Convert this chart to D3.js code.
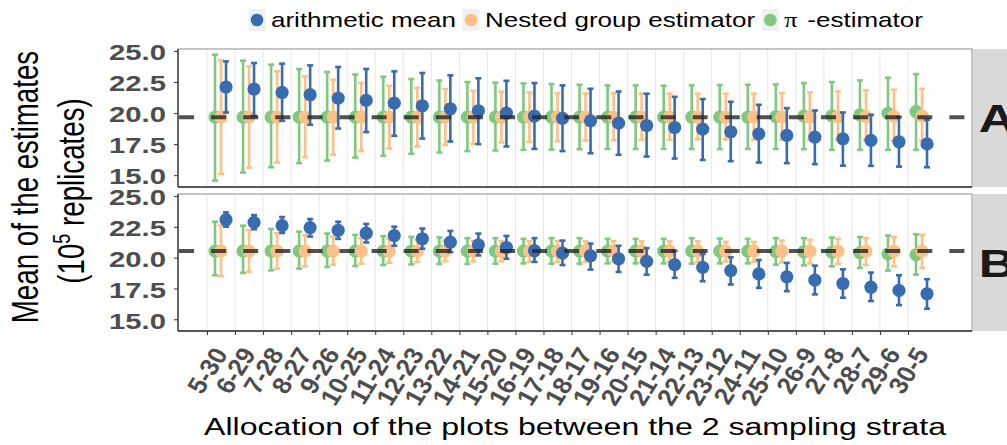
<!DOCTYPE html>
<html>
<head>
<meta charset="utf-8">
<script src="https://cdn.jsdelivr.net/npm/d3@7"></script>
<style>
  body { margin: 0; background: #fff; }
  text { font-family: "Liberation Sans", Arial, sans-serif; }
</style>
</head>
<body>
<div id="chart"></div>
<script>
// Categories (x axis) and panel labels
const categories = ["5-30", "6-29", "7-28", "8-27", "9-26", "10-25", "11-24", "12-23", "13-22",
  "14-21", "15-20", "16-19", "17-18", "18-17", "19-16", "20-15", "21-14", "22-13", "23-12",
  "24-11", "25-10", "26-9", "27-8", "28-7", "29-6", "30-5"];
const panels = ["A", "B"];
const yTicks = [15, 17.5, 20, 22.5, 25];
const refLines = [19.66, 20.53];

// Panel A
const meanA_arith = [22.10, 21.94, 21.66, 21.48, 21.21, 21.02, 20.80, 20.59, 20.35, 20.19, 20.00, 19.76, 19.57,
  19.38, 19.19, 19.00, 18.84, 18.71, 18.50, 18.33, 18.20, 18.06, 17.93, 17.80, 17.69, 17.52];
const lowA_arith = [20.05, 19.78, 19.38, 19.06, 18.76, 18.47, 18.17, 17.95, 17.71, 17.50, 17.31, 17.12, 16.94,
  16.77, 16.64, 16.50, 16.34, 16.23, 16.13, 16.02, 15.97, 15.89, 15.77, 15.75, 15.69, 15.64];
const highA_arith = [24.16, 24.03, 23.98, 23.84, 23.71, 23.55, 23.36, 23.23, 23.04, 22.80, 22.60, 22.42, 22.23,
  21.96, 21.74, 21.56, 21.31, 21.13, 20.91, 20.67, 20.40, 20.21, 20.05, 19.86, 19.68, 19.46];

const meanA_nested = [19.68, 19.68, 19.68, 19.68, 19.68, 19.68, 19.68, 19.68, 19.68, 19.68, 19.68, 19.68, 19.68,
  19.68, 19.68, 19.68, 19.68, 19.68, 19.68, 19.68, 19.68, 19.68, 19.70, 19.72, 19.74, 19.76];
const lowA_nested = [15.10, 15.61, 16.02, 16.45, 16.64, 16.94, 17.15, 17.31, 17.44, 17.52, 17.63, 17.69, 17.74,
  17.79, 17.82, 17.85, 17.85, 17.90, 17.88, 17.85, 17.85, 17.85, 17.85, 17.85, 17.79, 17.79];
const highA_nested = [24.24, 23.76, 23.36, 22.95, 22.69, 22.42, 22.20, 22.04, 21.93, 21.80, 21.72, 21.66, 21.61,
  21.58, 21.58, 21.56, 21.56, 21.56, 21.56, 21.56, 21.61, 21.66, 21.74, 21.83, 21.88, 21.96];

const meanA_pi = [19.68, 19.68, 19.68, 19.68, 19.68, 19.68, 19.68, 19.68, 19.68, 19.68, 19.68, 19.68, 19.68,
  19.68, 19.68, 19.68, 19.68, 19.68, 19.68, 19.68, 19.72, 19.75, 19.78, 19.86, 19.98, 20.12];
const lowA_pi = [14.57, 15.21, 15.64, 15.97, 16.18, 16.42, 16.56, 16.72, 16.83, 16.94, 16.99, 17.04, 17.06,
  17.10, 17.12, 17.12, 17.12, 17.12, 17.10, 17.12, 17.12, 17.10, 17.04, 17.04, 17.04, 17.04];
const highA_pi = [24.70, 24.22, 23.90, 23.55, 23.31, 23.11, 22.93, 22.74, 22.62, 22.50, 22.44, 22.39, 22.34,
  22.28, 22.23, 22.23, 22.20, 22.23, 22.26, 22.28, 22.31, 22.42, 22.50, 22.63, 22.85, 23.14];

// Panel B
const meanB_arith = [23.07, 22.86, 22.59, 22.43, 22.22, 21.98, 21.79, 21.53, 21.25, 21.04, 20.82, 20.56, 20.37,
  20.15, 19.91, 19.70, 19.43, 19.21, 18.95, 18.68, 18.44, 18.17, 17.90, 17.60, 17.34, 17.07];
const lowB_arith = [22.51, 22.30, 22.00, 21.71, 21.52, 21.23, 20.96, 20.72, 20.45, 20.18, 19.91, 19.65, 19.40,
  19.03, 18.84, 18.62, 18.36, 18.09, 17.82, 17.55, 17.28, 17.02, 16.75, 16.48, 16.15, 15.86];
const highB_arith = [23.67, 23.45, 23.29, 23.13, 22.91, 22.73, 22.51, 22.36, 22.16, 21.95, 21.76, 21.58, 21.38,
  21.14, 20.96, 20.77, 20.55, 20.29, 20.03, 19.81, 19.57, 19.35, 19.05, 18.79, 18.57, 18.25];

const meanB_nested = [20.53, 20.53, 20.53, 20.53, 20.53, 20.53, 20.53, 20.53, 20.53, 20.53, 20.53, 20.53, 20.53,
  20.53, 20.53, 20.53, 20.53, 20.53, 20.53, 20.53, 20.53, 20.53, 20.53, 20.53, 20.53, 20.53];
const lowB_nested = [18.49, 18.84, 19.11, 19.29, 19.43, 19.51, 19.59, 19.64, 19.70, 19.70, 19.70, 19.67, 19.67,
  19.67, 19.67, 19.66, 19.66, 19.65, 19.68, 19.66, 19.62, 19.53, 19.48, 19.40, 19.29, 19.16];
const highB_nested = [22.59, 22.24, 21.98, 21.84, 21.71, 21.58, 21.52, 21.44, 21.38, 21.36, 21.34, 21.34, 21.34,
  21.34, 21.33, 21.33, 21.33, 21.32, 21.28, 21.28, 21.38, 21.44, 21.52, 21.58, 21.66, 21.84];

const meanB_pi = [20.53, 20.53, 20.53, 20.53, 20.53, 20.53, 20.53, 20.53, 20.53, 20.53, 20.53, 20.53, 20.53,
  20.53, 20.53, 20.53, 20.53, 20.53, 20.53, 20.53, 20.50, 20.48, 20.44, 20.38, 20.31, 20.23];
const lowB_pi = [18.57, 18.76, 18.97, 19.11, 19.24, 19.32, 19.40, 19.45, 19.48, 19.49, 19.51, 19.53, 19.51,
  19.51, 19.53, 19.53, 19.53, 19.51, 19.53, 19.53, 19.43, 19.37, 19.29, 19.16, 18.95, 18.62];
const highB_pi = [22.91, 22.59, 22.33, 22.11, 21.95, 21.84, 21.74, 21.68, 21.64, 21.58, 21.58, 21.52, 21.58,
  21.58, 21.52, 21.52, 21.52, 21.58, 21.55, 21.52, 21.58, 21.58, 21.63, 21.68, 21.79, 21.90];

// Series in drawing order (left to right inside each group)
const series = [
  { name: "pi", color: "#7fc97f", dx: -6,
    data: [[meanA_pi, lowA_pi, highA_pi], [meanB_pi, lowB_pi, highB_pi]] },
  { name: "nested", color: "#fdc086", dx: 0,
    data: [[meanA_nested, lowA_nested, highA_nested], [meanB_nested, lowB_nested, highB_nested]] },
  { name: "arith", color: "#386cb0", dx: 5,
    data: [[meanA_arith, lowA_arith, highA_arith], [meanB_arith, lowB_arith, highB_arith]] }
];

// The original picture is stretched sideways, so text gets a horizontal scale
const SX = 1.3;
const stretch = (x, y, rot, sx = SX) => `translate(${x},${y}) scale(${sx},1)` + (rot ? ` rotate(${rot})` : "");

const plotLeft = 178, plotRight = 972;
const panelTops = [49, 194], panelBottoms = [187, 331];
const yDomain = [14.05, 25.16];

const svg = d3.select("#chart").append("svg")
  .attr("width", 1007)
  .attr("height", 445)
  .style("background", "#fff");

const xScale = d3.scalePoint().domain(categories).range([207, 908]);
const half = xScale.step() / 2;

panels.forEach((label, p) => {
  const top = panelTops[p], bottom = panelBottoms[p];
  const y = d3.scaleLinear().domain(yDomain).range([bottom, top]);
  const g = svg.append("g");

  // panel background and border
  g.append("rect")
    .attr("x", plotLeft).attr("y", top)
    .attr("width", plotRight - plotLeft).attr("height", bottom - top)
    .attr("fill", "#fff").attr("stroke", "#8c8c8c").attr("stroke-width", 1);

  // vertical grid lines
  g.selectAll(".grid").data(categories).join("line")
    .attr("class", "grid")
    .attr("x1", d => xScale(d)).attr("x2", d => xScale(d))
    .attr("y1", top + 1).attr("y2", bottom - 1)
    .attr("stroke", "#e6e6e6").attr("stroke-width", 1);

  // strip on the right
  svg.append("rect")
    .attr("x", plotRight + 1).attr("y", top)
    .attr("width", 60).attr("height", bottom - top)
    .attr("fill", "#d9d9d9");
  svg.append("text")
    .attr("transform", stretch(997, (top + bottom) / 2 + 14))
    .attr("text-anchor", "middle")
    .attr("font-size", 39).attr("font-weight", "bold")
    .attr("fill", "#1a1a1a")
    .text(label);

  // y axis
  const ya = g.append("g")
    .attr("transform", `translate(${plotLeft},0)`)
    .call(d3.axisLeft(y).tickValues(yTicks).tickSize(4).tickFormat(d3.format(".1f")));
  ya.select(".domain").remove();
  ya.selectAll(".tick line").attr("stroke", "#333");
  ya.selectAll(".tick text")
    .attr("x", null).attr("dy", null)
    .attr("dominant-baseline", "central")
    .attr("transform", stretch(-12, 1))
    .attr("font-size", 22.5).attr("font-weight", "bold")
    .attr("font-family", "Liberation Sans, Arial, sans-serif")
    .attr("fill", "#4d4d4d");

  // error bars and points
  series.forEach(s => {
    const [m, lo, hi] = s.data[p];
    const cx = d => xScale(d) + half + s.dx;
    const sg = g.append("g").attr("stroke", s.color).attr("fill", s.color);
    sg.selectAll(".bar").data(categories).join("line")
      .attr("x1", cx).attr("x2", cx)
      .attr("y1", (d, i) => y(lo[i])).attr("y2", (d, i) => y(hi[i]))
      .attr("stroke-width", 2.6);
    [lo, hi].forEach(arr => {
      sg.append("g").selectAll("line").data(categories).join("line")
        .attr("x1", d => cx(d) - 3).attr("x2", d => cx(d) + 3)
        .attr("y1", (d, i) => y(arr[i])).attr("y2", (d, i) => y(arr[i]))
        .attr("stroke-width", 2.6);
    });
    sg.selectAll(".pt").data(categories).join("circle")
      .attr("cx", cx).attr("cy", (d, i) => y(m[i]))
      .attr("r", 6.6).attr("stroke", "none");
  });

  // reference dashed line
  g.append("line")
    .attr("x1", 179).attr("x2", 966)
    .attr("y1", y(refLines[p])).attr("y2", y(refLines[p]))
    .attr("stroke", "#262626").attr("stroke-opacity", 0.8)
    .attr("stroke-width", 4).attr("stroke-dasharray", "15 17.1");

  // axis lines
  g.append("line")
    .attr("x1", plotLeft).attr("x2", plotLeft).attr("y1", top).attr("y2", bottom)
    .attr("stroke", "#333").attr("stroke-width", 1.3);
  g.append("line")
    .attr("x1", plotLeft).attr("x2", plotRight).attr("y1", bottom).attr("y2", bottom)
    .attr("stroke", "#333").attr("stroke-width", 1.3);
});

// x axis under the lower panel
const xa = svg.append("g")
  .attr("transform", `translate(0,${panelBottoms[1]})`)
  .call(d3.axisBottom(xScale).tickSize(4));
xa.select(".domain").remove();
xa.selectAll(".tick line").attr("stroke", "#333");
xa.selectAll(".tick text")
  .attr("y", null).attr("dy", null)
  .attr("text-anchor", "end")
  .attr("transform", stretch(21, 23, -60, 1.1))
  .attr("font-size", 24).attr("font-weight", "bold")
  .attr("font-family", "Liberation Sans, Arial, sans-serif")
  .attr("fill", "#4d4d4d");

// axis titles
svg.append("text")
  .attr("transform", stretch(575, 435))
  .attr("text-anchor", "middle")
  .attr("font-size", 24.7).attr("fill", "#000")
  .text("Allocation of the plots between the 2 sampling strata");

svg.append("text")
  .attr("transform", stretch(38, 187, -90))
  .attr("text-anchor", "middle")
  .attr("font-size", 27.7).attr("fill", "#000")
  .text("Mean of the estimates");

const yt2 = svg.append("text")
  .attr("transform", stretch(84, 191, -90))
  .attr("text-anchor", "middle")
  .attr("font-size", 27.7).attr("fill", "#000");
yt2.append("tspan").text("(10");
yt2.append("tspan").attr("font-size", 18).attr("dy", -11).text("5");
yt2.append("tspan").attr("dy", 11).text(" replicates)");

// legend: key, then label, laid out one after another
const legendItems = [
  { color: "#386cb0", label: "arithmetic mean" },
  { color: "#fdc086", label: "Nested group estimator" },
  { color: "#7fc97f", label: "π -estimator" }
];
const ly = 20;
let kx = 257;
legendItems.forEach(item => {
  svg.append("rect")
    .attr("x", kx - 8.5).attr("y", ly - 11)
    .attr("width", 17).attr("height", 22)
    .attr("fill", "#f0f0f0");
  svg.append("circle")
    .attr("cx", kx).attr("cy", ly)
    .attr("r", 6.3).attr("fill", item.color);
  const t = svg.append("text")
    .attr("transform", stretch(kx + 14, ly + 7))
    .attr("font-size", 20).attr("fill", "#000");
  if (item.label.startsWith("π")) {
    t.append("tspan").attr("font-family", "Liberation Serif, DejaVu Serif, serif").text("π");
    t.append("tspan").attr("dx", 2).text(" -estimator");
  } else {
    t.text(item.label);
  }
  kx += 14 + t.node().getBBox().width * SX + 15;
});
</script>
</body>
</html>
